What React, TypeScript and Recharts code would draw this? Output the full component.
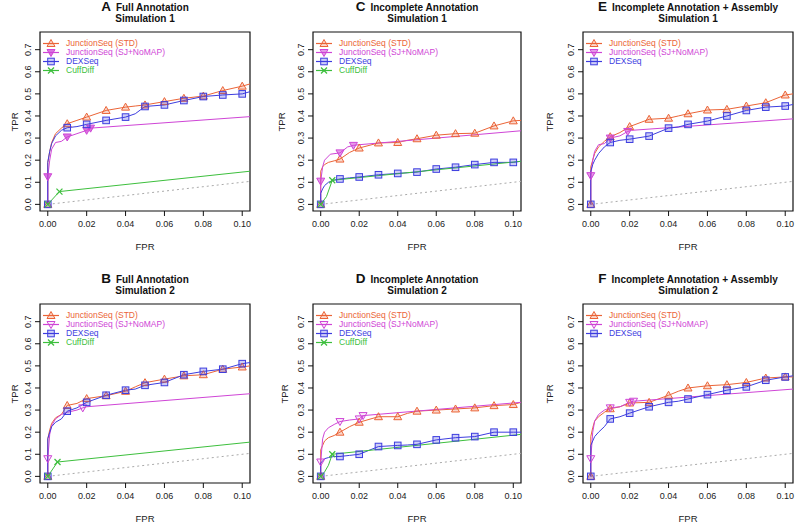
import { LineChart, Line, XAxis, YAxis, ReferenceArea } from 'recharts';

// shared FPR grid used by the JunctionSeq (STD) and DEXSeq curves
const FPR_GRID = [0, 0, 0.001, 0.002, 0.004, 0.007, 0.01, 0.015, 0.02, 0.03, 0.04, 0.045, 0.05, 0.06, 0.07, 0.08, 0.09, 0.1, 0.104];
// indices of the grid where a marker is drawn (0, 0.01, 0.02 ... 0.10)
const GRID_MARKS = [0, 6, 8, 9, 10, 12, 13, 14, 15, 16, 17];

const X_TICKS = [0, 0.02, 0.04, 0.06, 0.08, 0.1];
const Y_TICKS = [0, 0.1, 0.2, 0.3, 0.4, 0.5, 0.6, 0.7];
const DIAG_FPR = [0, 0.104];

// A: Full Annotation, Simulation 1
const A_STD = [0, 0.19, 0.24, 0.28, 0.32, 0.345, 0.365, 0.38, 0.395, 0.425, 0.44, 0.445, 0.45, 0.465, 0.48, 0.49, 0.515, 0.535, 0.545];
const A_DEX = [0, 0.19, 0.24, 0.275, 0.31, 0.335, 0.347, 0.352, 0.362, 0.38, 0.395, 0.41, 0.443, 0.45, 0.47, 0.488, 0.495, 0.5, 0.51];
const A_SJ_FPR = [0, 0, 0.001, 0.002, 0.004, 0.007, 0.01, 0.015, 0.02, 0.022, 0.104];
const A_SJ = [0, 0.125, 0.2, 0.25, 0.28, 0.285, 0.305, 0.32, 0.335, 0.345, 0.397];
const A_SJ_MARKS = [1, 6, 8, 9];
const A_CUFF_FPR = [0, 0.006, 0.104];
const A_CUFF = [0, 0.058, 0.15];
const A_CUFF_MARKS = [0, 1];

// B: Full Annotation, Simulation 2
const B_STD = [0, 0.17, 0.21, 0.24, 0.265, 0.28, 0.321, 0.33, 0.352, 0.365, 0.385, 0.405, 0.424, 0.44, 0.455, 0.46, 0.485, 0.495, 0.5];
const B_DEX = [0, 0.17, 0.2, 0.225, 0.245, 0.26, 0.295, 0.31, 0.335, 0.367, 0.39, 0.395, 0.412, 0.425, 0.46, 0.475, 0.485, 0.51, 0.515];
const B_SJ_FPR = [0, 0, 0.001, 0.002, 0.004, 0.007, 0.01, 0.015, 0.018, 0.02, 0.104];
const B_SJ = [0, 0.08, 0.19, 0.23, 0.26, 0.28, 0.29, 0.3, 0.31, 0.315, 0.374];
const B_SJ_MARKS = [1, 8];
const B_CUFF_FPR = [0, 0.005, 0.104];
const B_CUFF = [0, 0.065, 0.155];
const B_CUFF_MARKS = [0, 1];

// C: Incomplete Annotation, Simulation 1
const C_STD = [0, 0.15, 0.17, 0.18, 0.19, 0.197, 0.205, 0.235, 0.255, 0.278, 0.28, 0.29, 0.297, 0.313, 0.32, 0.322, 0.355, 0.378, 0.38];
const C_DEX = [0, 0.05, 0.07, 0.085, 0.1, 0.11, 0.115, 0.12, 0.124, 0.134, 0.14, 0.143, 0.146, 0.16, 0.168, 0.18, 0.19, 0.19, 0.195];
const C_SJ_FPR = [0, 0, 0.001, 0.002, 0.005, 0.01, 0.014, 0.017, 0.02, 0.104];
const C_SJ = [0, 0.105, 0.17, 0.2, 0.227, 0.233, 0.26, 0.267, 0.27, 0.333];
const C_SJ_MARKS = [1, 5, 7];
const C_CUFF_FPR = [0, 0.003, 0.006, 0.104];
const C_CUFF = [0, 0.035, 0.109, 0.195];
const C_CUFF_MARKS = [0, 2];

// D: Incomplete Annotation, Simulation 2
const D_STD = [0, 0.12, 0.14, 0.16, 0.175, 0.185, 0.2, 0.225, 0.245, 0.27, 0.27, 0.285, 0.295, 0.3, 0.305, 0.31, 0.32, 0.325, 0.335];
const D_DEX = [0, 0.06, 0.07, 0.08, 0.085, 0.09, 0.09, 0.095, 0.1, 0.135, 0.14, 0.142, 0.145, 0.165, 0.175, 0.18, 0.2, 0.2, 0.2];
const D_SJ_FPR = [0, 0, 0.001, 0.002, 0.004, 0.007, 0.01, 0.015, 0.02, 0.022, 0.104];
const D_SJ = [0, 0.065, 0.17, 0.2, 0.22, 0.235, 0.248, 0.255, 0.26, 0.275, 0.335];
const D_SJ_MARKS = [1, 6, 8, 9];
const D_CUFF_FPR = [0, 0.002, 0.004, 0.006, 0.104];
const D_CUFF = [0, 0.02, 0.05, 0.1, 0.19];
const D_CUFF_MARKS = [0, 3];

// E: Incomplete Annotation + Assembly, Simulation 1
const E_STD = [0, 0.17, 0.2, 0.23, 0.26, 0.285, 0.306, 0.325, 0.352, 0.385, 0.39, 0.4, 0.41, 0.427, 0.43, 0.445, 0.46, 0.495, 0.5];
const E_DEX = [0, 0.15, 0.18, 0.2, 0.23, 0.26, 0.28, 0.29, 0.295, 0.309, 0.345, 0.35, 0.362, 0.377, 0.4, 0.425, 0.44, 0.445, 0.452];
const E_SJ_FPR = [0, 0, 0.001, 0.002, 0.004, 0.007, 0.01, 0.015, 0.019, 0.021, 0.104];
const E_SJ = [0, 0.13, 0.2, 0.24, 0.27, 0.275, 0.3, 0.31, 0.33, 0.335, 0.387];
const E_SJ_MARKS = [1, 6, 8];

// F: Incomplete Annotation + Assembly, Simulation 2
const F_STD = [0, 0.18, 0.22, 0.25, 0.27, 0.29, 0.306, 0.315, 0.332, 0.335, 0.367, 0.385, 0.4, 0.41, 0.415, 0.425, 0.445, 0.45, 0.45];
const F_DEX = [0, 0.14, 0.16, 0.18, 0.2, 0.225, 0.26, 0.27, 0.286, 0.315, 0.335, 0.34, 0.35, 0.37, 0.39, 0.405, 0.435, 0.45, 0.455];
const F_SJ_FPR = [0, 0, 0.001, 0.002, 0.004, 0.007, 0.01, 0.015, 0.02, 0.022, 0.104];
const F_SJ = [0, 0.08, 0.2, 0.25, 0.28, 0.3, 0.31, 0.315, 0.335, 0.34, 0.395];
const F_SJ_MARKS = [1, 6, 8, 9];

const COLORS: Record<string, string> = {
  std: '#EB6437',
  sj: '#CF45D6',
  dex: '#3D3DDF',
  cuff: '#3DBF3D',
};

const NAMES: Record<string, string> = {
  std: 'JunctionSeq (STD)',
  sj: 'JunctionSeq (SJ+NoMAP)',
  dex: 'DEXSeq',
  cuff: 'CuffDiff',
};

const SHAPES: Record<string, string> = {
  std: 'up',
  sj: 'down',
  dex: 'square',
  cuff: 'x',
};

const FONT = '"Liberation Sans", Arial, Helvetica, sans-serif';
const BOX_H = 179;

type Pt = { fpr: number; tpr: number; mark: boolean };

function toPoints(fpr: number[], tpr: number[], marks: number[]): Pt[] {
  return fpr.map((f, i) => ({ fpr: f, tpr: tpr[i], mark: marks.includes(i) }));
}

interface SeriesDef {
  key: string;
  data: Pt[];
}

interface PanelDef {
  letter: string;
  title: string;
  sim: string;
  left: number;
  top: number;
  width: number;
  labelDx: number;
  sjFill: number;
  series: SeriesDef[];
}

function grid(tpr: number[]) {
  return toPoints(FPR_GRID, tpr, GRID_MARKS);
}

const PANELS: PanelDef[] = [
  {
    letter: 'A', title: 'Full Annotation', sim: 'Simulation 1', left: 40, top: 32, width: 210, labelDx: 25, sjFill: 0.75,
    series: [
      { key: 'std', data: grid(A_STD) },
      { key: 'sj', data: toPoints(A_SJ_FPR, A_SJ, A_SJ_MARKS) },
      { key: 'dex', data: grid(A_DEX) },
      { key: 'cuff', data: toPoints(A_CUFF_FPR, A_CUFF, A_CUFF_MARKS) },
    ],
  },
  {
    letter: 'C', title: 'Incomplete Annotation', sim: 'Simulation 1', left: 313, top: 32, width: 208, labelDx: 31, sjFill: 0.55,
    series: [
      { key: 'std', data: grid(C_STD) },
      { key: 'sj', data: toPoints(C_SJ_FPR, C_SJ, C_SJ_MARKS) },
      { key: 'dex', data: grid(C_DEX) },
      { key: 'cuff', data: toPoints(C_CUFF_FPR, C_CUFF, C_CUFF_MARKS) },
    ],
  },
  {
    letter: 'E', title: 'Incomplete Annotation + Assembly', sim: 'Simulation 1', left: 583, top: 32, width: 210, labelDx: 33, sjFill: 0.55,
    series: [
      { key: 'std', data: grid(E_STD) },
      { key: 'sj', data: toPoints(E_SJ_FPR, E_SJ, E_SJ_MARKS) },
      { key: 'dex', data: grid(E_DEX) },
    ],
  },
  {
    letter: 'B', title: 'Full Annotation', sim: 'Simulation 2', left: 40, top: 304, width: 210, labelDx: 25, sjFill: 0.1,
    series: [
      { key: 'std', data: grid(B_STD) },
      { key: 'sj', data: toPoints(B_SJ_FPR, B_SJ, B_SJ_MARKS) },
      { key: 'dex', data: grid(B_DEX) },
      { key: 'cuff', data: toPoints(B_CUFF_FPR, B_CUFF, B_CUFF_MARKS) },
    ],
  },
  {
    letter: 'D', title: 'Incomplete Annotation', sim: 'Simulation 2', left: 313, top: 304, width: 208, labelDx: 28, sjFill: 0.1,
    series: [
      { key: 'std', data: grid(D_STD) },
      { key: 'sj', data: toPoints(D_SJ_FPR, D_SJ, D_SJ_MARKS) },
      { key: 'dex', data: grid(D_DEX) },
      { key: 'cuff', data: toPoints(D_CUFF_FPR, D_CUFF, D_CUFF_MARKS) },
    ],
  },
  {
    letter: 'F', title: 'Incomplete Annotation + Assembly', sim: 'Simulation 2', left: 583, top: 304, width: 210, labelDx: 33, sjFill: 0.1,
    series: [
      { key: 'std', data: grid(F_STD) },
      { key: 'sj', data: toPoints(F_SJ_FPR, F_SJ, F_SJ_MARKS) },
      { key: 'dex', data: grid(F_DEX) },
    ],
  },
];

function Marker({ shape, cx, cy, color, fillOpacity }: { shape: string; cx: number; cy: number; color: string; fillOpacity: number }) {
  if (shape === 'up') {
    return (
      <polygon
        points={`${cx},${cy - 4} ${cx - 4},${cy + 3} ${cx + 4},${cy + 3}`}
        fill={color} fillOpacity={fillOpacity} stroke={color} strokeWidth={1}
      />
    );
  }
  if (shape === 'down') {
    return (
      <polygon
        points={`${cx},${cy + 4} ${cx - 4},${cy - 3} ${cx + 4},${cy - 3}`}
        fill={color} fillOpacity={fillOpacity} stroke={color} strokeWidth={1}
      />
    );
  }
  if (shape === 'square') {
    return (
      <rect x={cx - 3.3} y={cy - 3.3} width={6.6} height={6.6}
        fill={color} fillOpacity={fillOpacity} stroke={color} strokeWidth={1} />
    );
  }
  return (
    <g stroke={color} strokeWidth={1.2}>
      <line x1={cx - 3} y1={cy - 3} x2={cx + 3} y2={cy + 3} />
      <line x1={cx - 3} y1={cy + 3} x2={cx + 3} y2={cy - 3} />
    </g>
  );
}

function YTick(props: any) {
  const { x, y, payload } = props;
  return (
    <text
      x={x} y={y}
      transform={`rotate(-90 ${x} ${y})`}
      textAnchor="middle"
      fontSize={9}
      fill="#222"
      fontFamily={FONT}
    >
      {Number(payload.value).toFixed(1)}
    </text>
  );
}

function Legend({ panel }: { panel: PanelDef }) {
  return (
    <div style={{ position: 'absolute', left: panel.left + 2, top: panel.top + 6.5, fontFamily: FONT }}>
      {panel.series.map((s) => (
        <div key={s.key} style={{ display: 'flex', alignItems: 'center', height: 9.2 }}>
          <svg width={18} height={9} style={{ display: 'block' }}>
            <line x1={1} y1={4.5} x2={17} y2={4.5} stroke={COLORS[s.key]} strokeWidth={1.2} />
            <Marker shape={SHAPES[s.key]} cx={9} cy={4.5} color={COLORS[s.key]}
              fillOpacity={s.key === 'sj' ? panel.sjFill : 0.25} />
          </svg>
          <span style={{ marginLeft: 6, fontSize: 8.5, color: COLORS[s.key], lineHeight: '9px', whiteSpace: 'nowrap' }}>
            {NAMES[s.key]}
          </span>
        </div>
      ))}
    </div>
  );
}

function Panel({ panel }: { panel: PanelDef }) {
  const chartW = 40 + panel.width + 3;
  const chartH = 8 + BOX_H + 30;
  const diag = DIAG_FPR.map((f) => ({ fpr: f, tpr: f }));
  return (
    <>
      <div
        style={{
          position: 'absolute', left: panel.left - 30, width: panel.width + 60, top: panel.top - 32,
          textAlign: 'center', fontFamily: FONT, fontWeight: 'bold', fontSize: 10, color: '#111',
        }}
      >
        <div style={{ height: 13, lineHeight: '13px', whiteSpace: 'nowrap' }}>
          <span style={{ fontSize: 13.5 }}>{panel.letter}</span>
          <span style={{ marginLeft: 5 }}>{panel.title}</span>
        </div>
        <div style={{ height: 12, lineHeight: '12px' }}>{panel.sim}</div>
      </div>
      <div style={{ position: 'absolute', left: panel.left - 40, top: panel.top - 8 }}>
        <LineChart width={chartW} height={chartH} margin={{ top: 8, right: 3, left: 0, bottom: 0 }}>
          <XAxis
            dataKey="fpr" type="number" domain={[-0.004, 0.104]} allowDataOverflow
            ticks={X_TICKS} interval={0} tickFormatter={(v: number) => v.toFixed(2)}
            axisLine={false} tickSize={5} tickMargin={5} height={30}
            tickLine={{ stroke: '#111' }}
            tick={{ fontSize: 9, fill: '#222', fontFamily: FONT }}
          />
          <YAxis
            dataKey="tpr" type="number" domain={[-0.03, 0.78]} allowDataOverflow
            ticks={Y_TICKS} interval={0} width={40} axisLine={false} tickSize={5} tickMargin={4}
            tickLine={{ stroke: '#111' }} tick={<YTick />}
          />
          <ReferenceArea x1={-0.004} x2={0.104} y1={-0.03} y2={0.78} fill="none" stroke="#111" strokeWidth={1.2} />
          <Line
            data={diag} dataKey="tpr" stroke="#AAAAAA" strokeWidth={1} strokeDasharray="2 3"
            dot={false} activeDot={false} isAnimationActive={false} type="linear"
          />
          {panel.series.map((s) => (
            <Line
              key={s.key}
              data={s.data}
              dataKey="tpr"
              type="linear"
              stroke={COLORS[s.key]}
              strokeWidth={1}
              activeDot={false}
              isAnimationActive={false}
              dot={(p: any) =>
                p.payload && p.payload.mark ? (
                  <Marker key={`${s.key}-${p.index}`} shape={SHAPES[s.key]} cx={p.cx} cy={p.cy}
                    color={COLORS[s.key]} fillOpacity={s.key === 'sj' ? panel.sjFill : 0.25} />
                ) : (
                  <g key={`${s.key}-${p.index}`} />
                )
              }
            />
          ))}
        </LineChart>
      </div>
      <Legend panel={panel} />
      <div
        style={{
          position: 'absolute', left: panel.left - panel.labelDx - 20, top: panel.top + BOX_H / 2 - 6,
          width: 40, height: 12, lineHeight: '12px', textAlign: 'center', transform: 'rotate(-90deg)',
          fontFamily: FONT, fontSize: 9.5, color: '#222',
        }}
      >
        TPR
      </div>
      <div
        style={{
          position: 'absolute', left: panel.left, width: panel.width, top: panel.top + BOX_H + 30,
          height: 12, lineHeight: '12px', textAlign: 'center', fontFamily: FONT, fontSize: 9.5, color: '#222',
        }}
      >
        FPR
      </div>
    </>
  );
}

export default function App() {
  return (
    <div style={{ position: 'absolute', left: 0, top: 0, width: 796, height: 524, background: '#fff', overflow: 'hidden' }}>
      {PANELS.map((p) => (
        <Panel key={p.letter} panel={p} />
      ))}
    </div>
  );
}
